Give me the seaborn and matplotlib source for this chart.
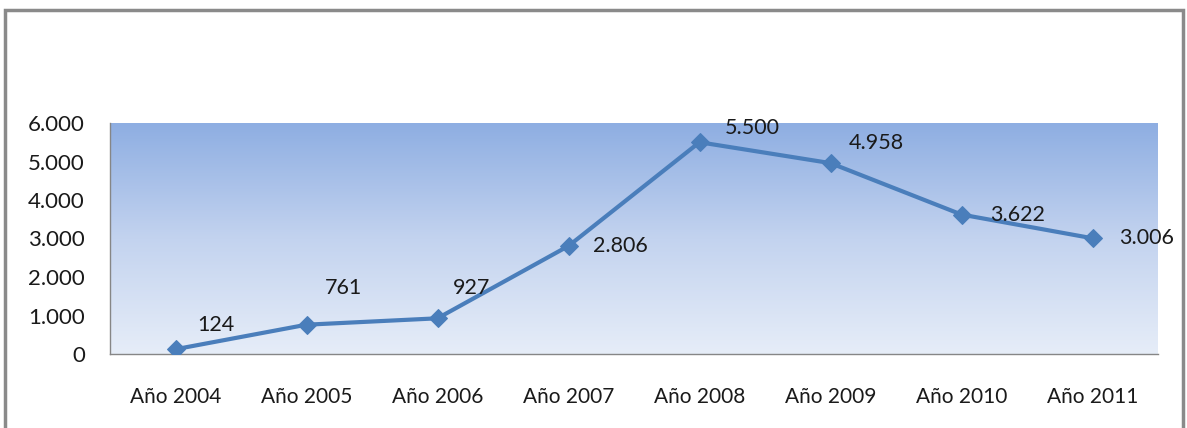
import numpy as np
import pandas as pd
import seaborn as sns
import matplotlib.pyplot as plt
from matplotlib.colors import LinearSegmentedColormap
from matplotlib.patches import Rectangle
from matplotlib.ticker import FuncFormatter, FixedLocator

years = ["Año 2004", "Año 2005", "Año 2006", "Año 2007",
         "Año 2008", "Año 2009", "Año 2010", "Año 2011"]
values = [124, 761, 927, 2806, 5500, 4958, 3622, 3006]
value_labels = ["124", "761", "927", "2.806", "5.500", "4.958", "3.622", "3.006"]

df = pd.DataFrame({"Año": years, "Valor": values})

sns.set_style("white")
plt.rcParams['font.family'] = ['Lato', 'DejaVu Sans']

W, H = 1187, 428
fig = plt.figure(figsize=(W / 100, H / 100), dpi=100)
ax = fig.add_axes([110 / W, (H - 354) / H, (1158 - 110) / W, (354 - 123) / H])

# plot area gradient (light at bottom, blue at top)
cmap = LinearSegmentedColormap.from_list("bg", ["#e6edf8", "#c3d3ef", "#8eaee2"])
grad = np.linspace(0, 1, 256).reshape(-1, 1)
ax.imshow(grad, cmap=cmap, origin="lower", aspect="auto",
          extent=[0, 1, 0, 1], transform=ax.transAxes, zorder=0)

line_color = "#4a7ebb"
sns.lineplot(data=df, x="Año", y="Valor", ax=ax, color=line_color, linewidth=3,
             marker="D", markersize=9, markeredgecolor=line_color, zorder=3, sort=False)

# data labels (offsets in pixels)
offsets = [(40, 24), (37, 37), (34, 30), (52, 0), (53, 14), (46, 20), (56, 0), (54, 0)]
fs = 15
for i, (v, lab) in enumerate(zip(values, value_labels)):
    ax.annotate(lab, (i, v), xytext=offsets[i], textcoords="offset pixels",
                ha="center", va="center", fontsize=15.5, color="#1a1a1a", zorder=4)

ax.set_xlim(-0.5, len(years) - 0.5)
ax.set_ylim(0, 6000)
ax.set_yticks(range(0, 6001, 1000))
ax.yaxis.set_major_formatter(FuncFormatter(lambda v, p: f"{int(v):,}".replace(",", ".")))

# tick marks between categories, labels at centers
ax.xaxis.set_major_locator(FixedLocator(np.arange(-0.5, len(years), 1)))
ax.xaxis.set_minor_locator(FixedLocator(np.arange(len(years))))
ax.set_xticklabels([], minor=False)
ax.set_xticklabels(years, minor=True)
ax.tick_params(axis="x", which="major", length=6, width=1, color="#868686", direction="out")
ax.tick_params(axis="x", which="minor", length=0, pad=24, labelsize=fs, labelcolor="#1a1a1a")
ax.tick_params(axis="y", length=7, width=1, color="#868686", direction="out",
               labelsize=16, labelcolor="#1a1a1a", pad=11)
ax.set_xlabel("")
ax.set_ylabel("")

for s in ["top", "right"]:
    ax.spines[s].set_visible(False)
for s in ["left", "bottom"]:
    ax.spines[s].set_color("#868686")
    ax.spines[s].set_linewidth(1)

# outer chart border
fig.patches.append(Rectangle((5 / W, -0.1), (1183 - 5) / W, (H - 10) / H + 0.1,
                             transform=fig.transFigure, fill=False,
                             edgecolor="#8a8a8a", linewidth=2.5))

fig.savefig("out.png", dpi=100)
